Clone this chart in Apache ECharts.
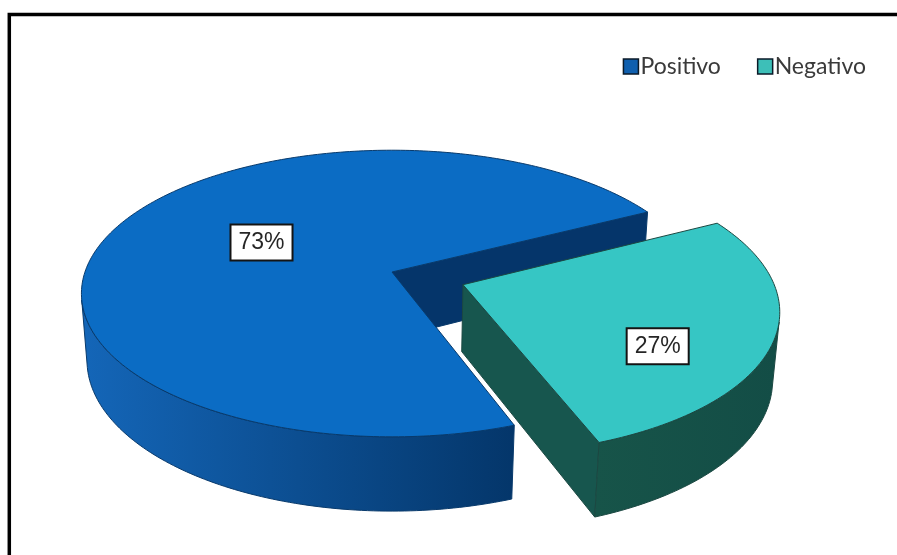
<!DOCTYPE html>
<html>
<head>
<meta charset="utf-8">
<script src="https://cdn.jsdelivr.net/npm/echarts@6/dist/echarts.min.js"></script>
<style>
  html, body { margin: 0; padding: 0; background: #ffffff; }
  #chart { width: 897px; height: 555px; }
</style>
</head>
<body>
<div id="chart"></div>
<script>
// Survey result split
const categories = ['Positivo', 'Negativo'];
const values = [73, 27];
const valueLabels = ['73%', '27%'];

// Camera / slab settings for the tilted pie (radius = 1 unit)
const view = {
  cx: 392, cy: 272,     // screen position of the pie centre on the top face
  fx: 1830, fy: 1871,   // focal scale, horizontal and vertical
  dist: 5.96,           // camera distance
  tilt: 26.5,           // camera elevation in degrees
  height: 0.24,         // slab thickness
  start: -70            // angle where the first slice starts, running clockwise
};
const explode = [0, 0.245];
const labelPlace = [{ r: 0.49, shift: -5 }, { r: 0.7, shift: -13.6 }];

const topColors = ['#0b6cc4', '#36c6c4'];
const cutColors = ['#05356a', '#17564e'];
const wallColors = [['#1466b8', '#04366a'], ['#175449', '#134d46']];
const edgeColors = ['#083a6c', '#1b4842'];
const legendColors = ['#0f5fae', '#3dbfb8'];

const RAD = Math.PI / 180;
const sinA = Math.sin(view.tilt * RAD);
const cosA = Math.cos(view.tilt * RAD);
const camera = [0, -view.dist * cosA, view.dist * sinA];

function project(X, Y, Z) {
  const d = view.dist + Y * cosA - Z * sinA;
  return [view.cx + view.fx * X / d, view.cy - view.fy * (Y * sinA + Z * cosA) / d];
}

function renderSlice(params, api) {
  const i = params.seriesIndex;
  const total = values.reduce((s, v) => s + v, 0);
  let before = 0;
  for (let k = 0; k < i; k++) before += values[k];
  const v = api.value(0);
  const a0 = view.start - before / total * 360;
  const a1 = a0 - v / total * 360;
  const midDeg = (a0 + a1) / 2;
  const ox = explode[i] * Math.cos(midDeg * RAD);
  const oy = explode[i] * Math.sin(midDeg * RAD);
  const H = view.height;
  const pt = (deg, r, Z) => project(ox + r * Math.cos(deg * RAD), oy + r * Math.sin(deg * RAD), Z);

  const steps = Math.max(2, Math.ceil(Math.abs(a0 - a1)));
  const angs = [];
  for (let j = 0; j <= steps; j++) angs.push(a0 + (a1 - a0) * j / steps);

  const children = [];
  const edge = { stroke: edgeColors[i], lineWidth: 1, lineJoin: 'round' };

  // radial cut faces that turn towards the camera
  [[a0, 90], [a1, -90]].forEach(([t, off]) => {
    const nx = Math.cos((t + off) * RAD), ny = Math.sin((t + off) * RAD);
    const px = ox + 0.5 * Math.cos(t * RAD), py = oy + 0.5 * Math.sin(t * RAD);
    if (nx * (camera[0] - px) + ny * (camera[1] - py) > 0) {
      children.push({
        type: 'polygon',
        shape: { points: [pt(t, 0, 0), pt(t, 1, 0), pt(t, 1, -H), pt(t, 0, -H)] },
        style: Object.assign({ fill: cutColors[i] }, edge)
      });
    }
  });

  // curved outer wall, front-facing part only
  let run = [];
  const flush = () => {
    if (run.length > 1) {
      const top = run.map(t => pt(t, 1, 0));
      const bot = run.map(t => pt(t, 1, -H)).reverse();
      const pts = top.concat(bot);
      const xs = pts.map(p => p[0]);
      const minX = Math.min(...xs), maxX = Math.max(...xs);
      children.push({
        type: 'polygon',
        shape: { points: pts },
        style: Object.assign({
          fill: {
            type: 'linear', global: true, x: minX, y: 0, x2: maxX, y2: 0,
            colorStops: [{ offset: 0, color: wallColors[i][0] }, { offset: 1, color: wallColors[i][1] }]
          }
        }, edge)
      });
    }
    run = [];
  };
  angs.forEach(t => {
    const c = Math.cos(t * RAD), s = Math.sin(t * RAD);
    if (c * (camera[0] - ox - c) + s * (camera[1] - oy - s) > 0) run.push(t);
    else flush();
  });
  flush();

  // top face
  children.push({
    type: 'polygon',
    shape: { points: [pt(a0, 0, 0)].concat(angs.map(t => pt(t, 1, 0))) },
    style: Object.assign({ fill: topColors[i] }, edge)
  });

  // value label
  const lp = pt(midDeg + labelPlace[i].shift, labelPlace[i].r, 0);
  children.push({
    type: 'text',
    x: lp[0], y: lp[1],
    z2: 100,
    style: {
      text: valueLabels[i],
      font: '23px "Liberation Sans", Arial, sans-serif',
      fill: '#262626',
      align: 'center',
      verticalAlign: 'middle',
      backgroundColor: '#ffffff',
      borderColor: '#141414',
      borderWidth: 2,
      padding: [6, 7, 5, 7]
    }
  });

  return { type: 'group', children };
}

const chart = echarts.init(document.getElementById('chart'), null, { renderer: 'canvas' });
chart.setOption({
  animation: false,
  backgroundColor: '#ffffff',
  legend: {
    right: 26,
    top: 50,
    icon: 'rect',
    itemWidth: 15,
    itemHeight: 15,
    itemGap: 36,
    textStyle: { fontFamily: 'Lato', fontSize: 23, color: '#3a3a3a', padding: [0, 0, 0, -3] },
    data: categories.map((name, i) => ({
      name,
      itemStyle: { color: legendColors[i], borderColor: '#0b1a28', borderWidth: 1.5 }
    }))
  },
  graphic: [{
    type: 'rect',
    shape: { x: 9.3, y: 14.5, width: 1000, height: 1000 },
    style: { fill: 'none', stroke: '#000000', lineWidth: 3.5 },
    silent: true
  }],
  series: categories.map((name, i) => ({
    type: 'custom',
    name,
    coordinateSystem: 'none',
    itemStyle: { color: legendColors[i] },
    renderItem: renderSlice,
    data: [{ name, value: values[i] }]
  }))
});
</script>
</body>
</html>
